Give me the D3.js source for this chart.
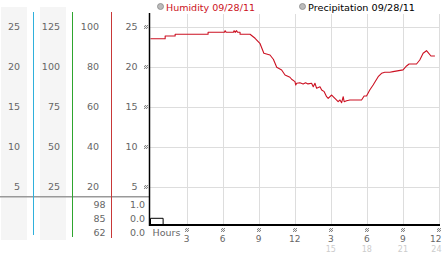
<!DOCTYPE html>
<html lang="en">
<head>
<meta charset="UTF-8">
<title>Humidity 09/28/11</title>
<script src="https://d3js.org/d3.v7.min.js"></script>
<style>
    body { margin: 0; background: #fff; }
    svg { display: block; font-family: "DejaVu Sans", Verdana, sans-serif; }
    .lbl { font-size: 9.5px; fill: #666; }
    .grid line { stroke: #ddd; stroke-width: 1; }
</style>
</head>
<body>
<div id="chart"></div>
<script>
const W = 442, H = 253;

// humidity trace, hour of day -> value
const humHours = [0, 1.22, 1.22, 2.05, 2.05, 4.79, 4.79, 6.15, 6.2, 6.3, 6.9, 6.95, 7.05, 7.15, 7.25, 7.45, 7.45, 8.28,
    8.7, 9.1, 9.43, 9.94, 10.22, 10.5, 10.91, 11.19, 11.6, 11.74, 12.02, 12.08, 12.16, 12.43, 12.7, 12.9, 13.1, 13.4,
    13.54, 13.68, 13.82, 14.1, 14.24, 14.45, 14.65, 14.78, 15.07, 15.34, 15.61, 15.76, 15.9, 16.03, 16.11, 16.31,
    16.59, 17.56, 17.77, 17.97, 18.24, 18.52, 18.94, 19.22, 19.49, 19.91, 20.18, 21.01, 21.3, 21.51, 22.13, 22.4,
    22.68, 22.96, 23.1, 23.33, 23.66];
const humValues = [23.5, 23.5, 23.84, 23.84, 24.05, 24.05, 24.3, 24.3, 24.5, 24.3, 24.3, 24.5, 24.3, 24.5, 24.3, 24.3, 24.05, 24.05,
    23.55, 22.93, 21.68, 21.46, 20.93, 19.93, 19.59, 18.96, 18.68, 18.43, 18.13, 17.71, 17.93, 18.0, 17.85, 18.0, 17.85, 17.93,
    17.5, 17.93, 17.3, 17.5, 17.09, 16.88, 16.25, 16.05, 16.46, 16.05, 15.63, 15.84, 15.5, 16.25, 15.63, 15.75,
    15.84, 15.84, 16.34, 16.34, 17.09, 17.71, 18.75, 19.18, 19.3, 19.3, 19.38, 19.6, 20.09, 20.34, 20.34, 20.84,
    21.68, 22.0, 21.75, 21.34, 21.34];

// precipitation trace
const precipHours = [0, 1.05];
const precipValues = [0.0, 0.0];

// axis labels
const col1Ticks = [25, 20, 15, 10, 5];
const col2Ticks = [125, 100, 75, 50, 25];
const col3Ticks = [100, 80, 60, 40, 20];
const col4Ticks = [25, 20, 15, 10, 5];
const col3Lower = ["98", "85", "62"];
const col4Lower = ["1.0", "0.0", "0.0"];
const hourTicks = [3, 6, 9, 12, 15, 18, 21, 24];
const hourLabels = ["3", "6", "9", "12", "3", "6", "9", "12"];
const hourLabels2 = ["", "", "", "", "15", "18", "21", "24"];

const svg = d3.select("#chart").append("svg")
    .attr("width", W).attr("height", H);

// checker glyph used as tick mark
const pat = svg.append("defs").append("pattern")
    .attr("id", "chk").attr("width", 2).attr("height", 2)
    .attr("patternUnits", "userSpaceOnUse");
pat.append("rect").attr("width", 2).attr("height", 2).attr("fill", "#eee");
pat.append("rect").attr("width", 1).attr("height", 1).attr("fill", "#888");
pat.append("rect").attr("x", 1).attr("y", 1).attr("width", 1).attr("height", 1).attr("fill", "#888");

const x = d3.scaleLinear().domain([0, 24]).range([150.5, 439]);
const y = d3.scaleLinear().domain([5, 25]).range([186.7, 26.7]);
const yP = d3.scaleLinear().domain([0, 1]).range([218.3, 204.3]);
const row = d3.scalePoint().domain([0, 1, 2]).range([204.3, 232.3]);
const baseY = 225;

// column backgrounds
svg.append("rect").attr("x", 1).attr("y", 7).attr("width", 26).attr("height", 233).attr("fill", "#f5f5f5");
svg.append("rect").attr("x", 40).attr("y", 7).attr("width", 26).attr("height", 233).attr("fill", "#f5f5f5");

// separator between upper and lower scales
svg.append("line").attr("x1", 0).attr("x2", 149).attr("y1", 196.7).attr("y2", 196.7)
    .attr("stroke", "#999").attr("stroke-width", 1.6);

// coloured axis lines
[[33, "#2fb0dc", 235], [72, "#2ea52e", 237], [111, "#c83838", 238]].forEach(([cx, c, y2]) => {
    svg.append("rect").attr("x", cx).attr("y", 12).attr("width", 1).attr("height", y2 - 12)
        .attr("fill", c);
});

// grid
const grid = svg.append("g").attr("class", "grid");
grid.selectAll(".h").data(col4Ticks).join("line")
    .attr("x1", 149).attr("x2", x(24)).attr("y1", d => Math.round(y(d)) + 0.5).attr("y2", d => Math.round(y(d)) + 0.5);
grid.selectAll(".v").data(hourTicks).join("line")
    .attr("x1", d => Math.round(x(d)) + 0.5).attr("x2", d => Math.round(x(d)) + 0.5)
    .attr("y1", 14).attr("y2", baseY);

// tick labels on the left
function colLabels(ticks, ax) {
    svg.append("g").selectAll("text").data(ticks).join("text")
        .attr("class", "lbl").attr("text-anchor", "end")
        .attr("x", ax).attr("y", (d, i) => y(col4Ticks[i]) + 3.5)
        .text(d => d);
}
colLabels(col1Ticks, 20);
colLabels(col2Ticks, 60);
colLabels(col3Ticks, 99);
colLabels(col4Ticks, 137.5);

svg.append("g").selectAll("text").data(col3Lower).join("text")
    .attr("class", "lbl").attr("text-anchor", "end")
    .attr("x", 105.5).attr("y", (d, i) => row(i) + 3.5).text(d => d);
svg.append("g").selectAll("text").data(col4Lower).join("text")
    .attr("class", "lbl").attr("text-anchor", "end")
    .attr("x", 145).attr("y", (d, i) => row(i) + 3.5).text(d => d);

// y tick glyphs
svg.append("g").selectAll("rect").data(col4Ticks).join("rect")
    .attr("x", 144).attr("y", d => Math.round(y(d)) - 2).attr("width", 4).attr("height", 4)
    .attr("fill", "url(#chk)");

// x tick glyphs and labels
const last = hourTicks.length - 1;
svg.append("g").selectAll("rect").data(hourTicks).join("rect")
    .attr("x", d => Math.round(x(d)) - 2).attr("y", 228).attr("width", 4).attr("height", 4)
    .attr("fill", "url(#chk)");
svg.append("g").selectAll("text").data(hourTicks).join("text")
    .attr("class", "lbl").style("font-size", "9px")
    .attr("text-anchor", (d, i) => i === last ? "end" : "middle")
    .attr("x", (d, i) => i === last ? W - 0.5 : x(d)).attr("y", 241.5)
    .text((d, i) => hourLabels[i]);
svg.append("g").selectAll("text").data(hourTicks).join("text")
    .attr("class", "lbl").style("font-size", "8px").style("fill", "#ccc")
    .attr("text-anchor", (d, i) => i === last ? "end" : "middle")
    .attr("x", (d, i) => i === last ? W - 0.5 : x(d)).attr("y", 252)
    .text((d, i) => hourLabels2[i]);
svg.append("text").attr("class", "lbl").attr("x", 152.5).attr("y", 235.5).text("Hours");

// humidity line
const hum = humHours.map((h, i) => ({ h: h, v: humValues[i] }));
svg.append("path").datum(hum)
    .attr("d", d3.line().x(d => x(d.h)).y(d => y(d.v)))
    .attr("fill", "none").attr("stroke", "#cc1122").attr("stroke-width", 1.1)
    .attr("stroke-linejoin", "round");

// precipitation trace, closed down to the baseline
const prec = precipHours.map((h, i) => ({ h: h, v: precipValues[i] }));
svg.append("path").datum(prec)
    .attr("d", d3.area().x(d => x(d.h)).y0(baseY).y1(d => yP(d.v)))
    .attr("fill", "none").attr("stroke", "#000").attr("stroke-width", 1);

// axes
svg.append("line").attr("x1", 149.5).attr("x2", 149.5).attr("y1", 13).attr("y2", baseY + 1)
    .attr("stroke", "#000").attr("stroke-width", 1.5);
svg.append("line").attr("x1", 149).attr("x2", 440).attr("y1", baseY).attr("y2", baseY)
    .attr("stroke", "#000").attr("stroke-width", 2);

// legend
const legend = [
    { name: "Humidity 09/28/11", cx: 160.5, color: "#cc1122", len: 89 },
    { name: "Precipitation 09/28/11", cx: 302.5, color: "#000", len: 107 }
];
legend.forEach(l => {
    svg.append("circle").attr("cx", l.cx).attr("cy", 6.5).attr("r", 3)
        .attr("fill", "#bbb").attr("stroke", "#888").attr("stroke-width", 0.8);
    svg.append("text").attr("x", l.cx + 5.5).attr("y", 10.5)
        .attr("textLength", l.len).attr("lengthAdjust", "spacingAndGlyphs")
        .style("font-size", "9.5px").style("fill", l.color).text(l.name);
});
</script>
</body>
</html>
